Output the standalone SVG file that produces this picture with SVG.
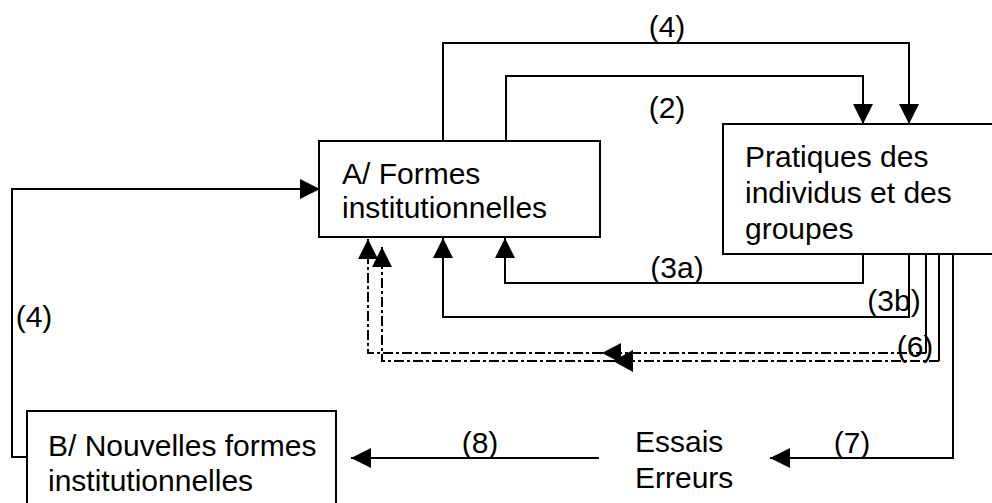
<svg xmlns="http://www.w3.org/2000/svg" width="992" height="503" viewBox="0 0 992 503">
<defs>
<style>
.box{fill:#fff;stroke:#000;stroke-width:2}
.ln{fill:none;stroke:#000;stroke-width:2}
.dd{fill:none;stroke:#000;stroke-width:2;stroke-dasharray:10 3 3 3}
text{font-family:"Liberation Sans",Arial,sans-serif;font-size:30px;fill:#000}
.lbl{text-anchor:middle}
</style>
<marker id="ah" viewBox="0 0 20 20" refX="20" refY="10" markerWidth="20" markerHeight="20" markerUnits="userSpaceOnUse" orient="auto">
<path d="M0,0 L20,10 L0,20 Z" fill="#000"/>
</marker>
</defs>
<rect width="992" height="503" fill="#fff"/>
<g id="connectors">
<path class="ln" d="M443,140 V43 H909 V124" marker-end="url(#ah)"/>
<path class="ln" d="M506,140 V76 H863 V124" marker-end="url(#ah)"/>
<path class="ln" d="M27,457 H12 V189 H320" marker-end="url(#ah)"/>
<path class="ln" d="M863,254 V283 H505 V238" marker-end="url(#ah)"/>
<path class="ln" d="M909,251 V317 H443 V238" marker-end="url(#ah)"/>
<path class="ln" d="M926,238 V353"/>
<path class="dd" d="M926,353 H602"/>
<path class="dd" d="M602,353 H368 V239" marker-end="url(#ah)"/>
<path d="M602,353 L621,343 L621,363 Z" fill="#000"/>
<path class="ln" d="M939,245 V361"/>
<path class="dd" d="M939,361 H613"/>
<path class="dd" d="M613,361 H382 V247" marker-end="url(#ah)"/>
<path d="M613,361 L633,350 L633,372 Z" fill="#000"/>
<path class="ln" d="M953,251 V458 H770" marker-end="url(#ah)"/>
<path class="ln" d="M599,458 H351" marker-end="url(#ah)"/>
</g>
<g id="nodeA">
<rect class="box" x="319" y="141" width="281" height="96"/>
<text x="342" y="184">A/ Formes</text>
<text x="342" y="218">institutionnelles</text>
</g>
<g id="nodePratiques">
<rect class="box" x="723" y="124" width="300" height="130"/>
<text x="745" y="167">Pratiques des</text>
<text x="745" y="203">individus et des</text>
<text x="745" y="239">groupes</text>
</g>
<g id="nodeB">
<rect class="box" x="27" y="411" width="309" height="120"/>
<text x="48" y="456">B/ Nouvelles formes</text>
<text x="48" y="491">institutionnelles</text>
</g>
<g id="nodeEssais">
<text x="635" y="452">Essais</text>
<text x="635" y="488">Erreurs</text>
</g>
<g id="labels">
<text class="lbl" x="667" y="37">(4)</text>
<text class="lbl" x="667" y="118">(2)</text>
<text class="lbl" x="677" y="278">(3a)</text>
<text class="lbl" x="894" y="311">(3b)</text>
<text class="lbl" x="915" y="357">(6)</text>
<text class="lbl" x="34" y="327">(4)</text>
<text class="lbl" x="480" y="453">(8)</text>
<text class="lbl" x="852" y="453">(7)</text>
</g>
</svg>
